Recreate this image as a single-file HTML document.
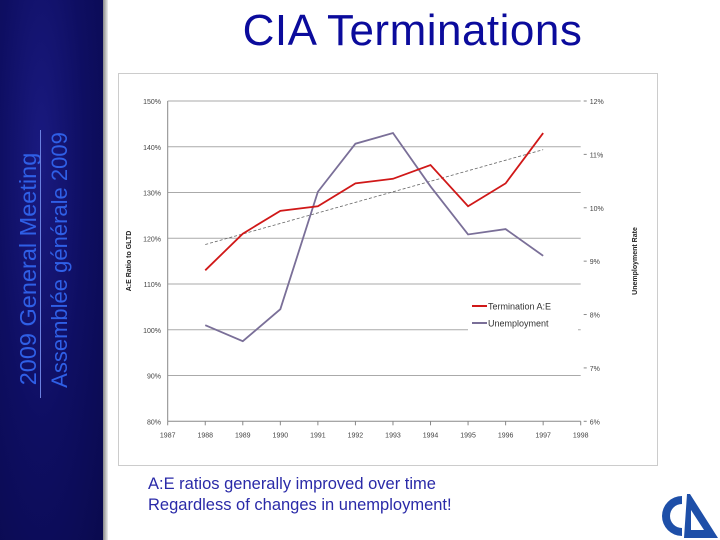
<!DOCTYPE html>
<html><head><meta charset="utf-8"><style>
body{margin:0;width:720px;height:540px;overflow:hidden;background:#fff;font-family:"Liberation Sans",sans-serif;position:relative}
#side{position:absolute;left:0;top:0;width:103px;height:540px;background:radial-gradient(ellipse at 40% 30%,#1a1a80 0%,#0e0e62 50%,#0a0a4e 100%)}
#sideedge{position:absolute;left:103px;top:0;width:5px;height:540px;background:linear-gradient(to right,#888,#eee)}
.vt{position:absolute;transform:rotate(-90deg);transform-origin:center;white-space:nowrap;color:#2f5fe6;text-align:center;width:300px;height:26px;line-height:26px}
#title{position:absolute;left:190px;width:445px;top:6px;text-align:center;font-size:44px;color:#0b0b9c;letter-spacing:0.5px}
#panel{position:absolute;left:118px;top:73px;width:540px;height:393px;border:1px solid #ccc;box-sizing:border-box}
.note{position:absolute;left:148px;font-size:16.5px;color:#2a2aa8}
</style></head><body>
<div id="side"></div>
<div id="sideedge"></div>
<div class="vt" style="left:-122px;top:256px;font-size:23.5px">2009 General Meeting</div>
<div style="position:absolute;left:40px;top:130px;width:1px;height:268px;background:#6a80e0"></div>
<div class="vt" style="left:-90px;top:247px;font-size:22px">Assemblée générale 2009</div>
<div id="title">CIA Terminations</div>
<div id="panel"></div>
<svg id="chart" width="720" height="540" style="position:absolute;left:0;top:0"></svg>
<div class="note" style="top:475px">A:E ratios generally improved over time</div>
<div class="note" style="top:496px">Regardless of changes in unemployment!</div>
<svg width="60" height="52" style="position:absolute;left:660px;top:488px">
<path d="M22 8 A20 20 0 0 0 22 48 L22 40 A12 12 0 0 1 22 16 Z" fill="#1e4fa8"/>
<path d="M27 6 L30 6 L58 50 L24 50 Z M31 22 L31 42 L44 42 Z" fill="#1e4fa8" fill-rule="evenodd"/>
</svg>
<script>
const years=[1988,1989,1990,1991,1992,1993,1994,1995,1996,1997];
const termination=[113,121,126,127,132,133,136,127,132,143];
const unemployment=[7.8,7.5,8.1,10.3,11.2,11.4,10.4,9.5,9.6,9.1];
const leftTicks=[80,90,100,110,120,130,140,150];
const rightTicks=[6,7,8,9,10,11,12];
const xTicks=[1987,1988,1989,1990,1991,1992,1993,1994,1995,1996,1997,1998];
const NS="http://www.w3.org/2000/svg",svg=document.getElementById('chart');
const X0=167.7,X1=580.7,YT=101,YB=421.3;
const x=v=>X0+(v-1987)/(1998-1987)*(X1-X0);
const yL=v=>YB-(v-80)/(150-80)*(YB-YT);
const yR=v=>YB-(v-6)/(12-6)*(YB-YT);
function el(t,a){const e=document.createElementNS(NS,t);for(const k in a)e.setAttribute(k,a[k]);svg.appendChild(e);return e;}
leftTicks.forEach(v=>{
 const g=el('line',{x1:X0,x2:X1,y1:yL(v),y2:yL(v),stroke:v==80?'#888':'#aaa','stroke-width':1});
 
 const t=el('text',{x:161,y:yL(v)+3,'font-size':7,fill:'#444','text-anchor':'end'});t.textContent=v+'%';
 
});
rightTicks.forEach(v=>{
 const m=el('line',{x1:X1+3,x2:X1+6,y1:yR(v),y2:yR(v),stroke:'#888'});
 
 const t=el('text',{x:X1+9,y:yR(v)+3,'font-size':7,fill:'#444','text-anchor':'start'});t.textContent=v+'%';
 
});
el('line',{x1:X0,x2:X0,y1:YT,y2:YB,stroke:'#888'});
xTicks.forEach(v=>{
 const m=el('line',{x1:x(v),x2:x(v),y1:YB,y2:YB+4,stroke:'#888'});
 
 const t=el('text',{x:x(v),y:YB+16,'font-size':7,fill:'#444','text-anchor':'middle'});t.textContent=v;
 
});
let t=el('text',{x:131,y:261,'font-size':7,'font-weight':'bold',fill:'#222','text-anchor':'middle',transform:'rotate(-90 131 261)'});t.textContent='A:E Ratio to GLTD';

t=el('text',{x:637,y:261,'font-size':7,'font-weight':'bold',fill:'#222','text-anchor':'middle',transform:'rotate(-90 637 261)'});t.textContent='Unemployment Rate';

const n=years.length,mx=years.reduce((a,b)=>a+b)/n,my=termination.reduce((a,b)=>a+b)/n;
let sxy=0,sxx=0;years.forEach((v,i)=>{sxy+=(v-mx)*(termination[i]-my);sxx+=(v-mx)*(v-mx);});
const sl=sxy/sxx,f=v=>my+sl*(v-mx);
const tr=el('line',{x1:x(years[0]),y1:yL(f(years[0])),x2:x(years[n-1]),y2:yL(f(years[n-1])),stroke:'#666','stroke-width':0.8,'stroke-dasharray':'3,2'});

const u=el('polyline',{points:years.map((v,i)=>x(v)+','+yR(unemployment[i])).join(' '),fill:'none',stroke:'#7a6f98','stroke-width':1.8});

const r=el('polyline',{points:years.map((v,i)=>x(v)+','+yL(termination[i])).join(' '),fill:'none',stroke:'#d01818','stroke-width':1.8});

const lb=el('rect',{x:468,y:297,width:110,height:34,fill:'#fff'});

[['Termination A:E','#d01818',306],['Unemployment','#7a6f98',323]].forEach(([s,c,y])=>{
 const l=el('line',{x1:472,x2:487,y1:y,y2:y,stroke:c,'stroke-width':2});
 
 const tx=el('text',{x:488,y:y+3.5,'font-size':9,fill:'#333'});tx.textContent=s;
 
});
</script>
</body></html>
